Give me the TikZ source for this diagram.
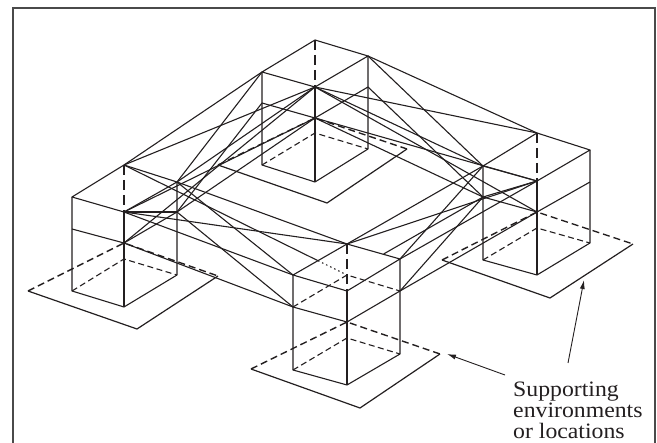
\documentclass[tikz,border=0pt]{standalone}
\usepackage{fontspec}
\setmainfont{Liberation Serif}[FakeStretch=1.08]
\usepackage{xcolor}
\usepackage{tikz}
\usetikzlibrary{arrows.meta, calc}

\definecolor{ink}{HTML}{231F20}
\definecolor{framegray}{HTML}{4A4A4A}
\newcommand{\captionsize}{\fontsize{22}{20.8}\selectfont}

\begin{document}
\begin{tikzpicture}[x=1pt, y=-1pt,
        wire/.style={draw=ink, line width=1.1pt, line join=round},
        hidden/.style={wire, dash pattern=on 6pt off 3.5pt},
        riser/.style={wire, line width=1.2pt, dash pattern=on 10pt off 5pt},
        ground/.style={wire, line width=1.2pt},
        groundhidden/.style={ground, line width=1.4pt, dash pattern=on 7pt off 4pt},
        pointer/.style={draw=ink, line width=0.9pt, -{Latex[length=9pt, width=5pt]}}]

            \useasboundingbox (0,0) rectangle (657,443);
            \clip (0,0) rectangle (657,443);
            \draw[framegray, line width=1.4pt] (13,460) -- (13,8) -- (655,8) -- (655,460);

            % left pillar
            \coordinate (L1) at (72,197);  \coordinate (L2) at (124,165);
            \coordinate (L3) at (177,182); \coordinate (L4) at (124,212);
            \coordinate (L5) at (72,229);  \coordinate (L6) at (124,243);
            \coordinate (L7) at (177,212);
            \coordinate (L8) at (72,291);  \coordinate (L9) at (124,307);
            \coordinate (L10) at (177,275); \coordinate (L11) at (124,259);
            % back pillar
            \coordinate (K1) at (262,72);  \coordinate (K2) at (315,40);
            \coordinate (K3) at (368,56);  \coordinate (K4) at (315,87);
            \coordinate (K5) at (262,103); \coordinate (K6) at (315,118);
            \coordinate (K7) at (368,87);
            \coordinate (K8) at (262,165); \coordinate (K9) at (315,182);
            \coordinate (K10) at (368,149); \coordinate (K11) at (315,133);
            % right pillar
            \coordinate (R1) at (483,166); \coordinate (R2) at (537,133);
            \coordinate (R3) at (590,150); \coordinate (R4) at (537,181);
            \coordinate (R5) at (483,197); \coordinate (R6) at (537,212);
            \coordinate (R7) at (590,182);
            \coordinate (R8) at (483,260); \coordinate (R9) at (537,275);
            \coordinate (R10) at (590,243); \coordinate (R11) at (537,228);
            % front pillar
            \coordinate (F1) at (293,275); \coordinate (F2) at (347,244);
            \coordinate (F3) at (400,259); \coordinate (F4) at (347,291);
            \coordinate (F5) at (293,307); \coordinate (F6) at (347,322);
            \coordinate (F7) at (400,291); \coordinate (F0) at (347,275);
            \coordinate (F8) at (293,370); \coordinate (F9) at (347,385);
            \coordinate (F10) at (400,354); \coordinate (F11) at (347,338);

            % ground plates
            \coordinate (PL1) at (28,291);  \coordinate (PL2) at (137,329);  \coordinate (PL3) at (218,276);
            \coordinate (PK1) at (218,165); \coordinate (PK2) at (327,203);  \coordinate (PK3) at (407,149);
            \coordinate (PR1) at (442,260); \coordinate (PR2) at (550,298);  \coordinate (PR3) at (633,244);
            \coordinate (PF1) at (251,369); \coordinate (PF2) at (360,408);  \coordinate (PF3) at (440,354);

            \draw[ground] (PL1) -- (PL2) -- (PL3);
            \draw[groundhidden] (PL1) -- (L6) -- (PL3);
            \draw[ground] (PK1) -- (PK2) -- (PK3);
            \draw[groundhidden] (PK1) -- (K6) -- (PK3);
            \draw[ground] (PR1) -- (PR2) -- (PR3);
            \draw[groundhidden] (PR1) -- (R6) -- (PR3);
            \draw[ground] (PF1) -- (PF2) -- (PF3);
            \draw[groundhidden] (PF1) -- (F6) -- (PF3);

            % pillar boxes
            \draw[wire] (L1) -- (L2) -- (L3) -- (L4) -- cycle;
            \draw[wire] (L1) -- (L8) -- (L9) -- (L10) -- (L3);
            \draw[wire] (L4) -- (L9);
            \draw[wire] (L5) -- (L6) -- (L7);
            \draw[riser] (L2) -- (L4);
            \draw[hidden] (L8) -- (L11) -- (L10);

            \draw[wire] (K1) -- (K2) -- (K3) -- (K4) -- cycle;
            \draw[wire] (K1) -- (K8) -- (K9) -- (K10) -- (K3);
            \draw[wire] (K4) -- (K9);
            \draw[wire] (K5) -- (K6) -- (K7);
            \draw[riser] (K2) -- (K4);
            \draw[hidden] (K8) -- (K11) -- (K10);

            \draw[wire] (R1) -- (R2) -- (R3) -- (R4) -- cycle;
            \draw[wire] (R1) -- (R8) -- (R9) -- (R10) -- (R3);
            \draw[wire] (R4) -- (R9);
            \draw[wire] (R5) -- (R6) -- (R7);
            \draw[riser] (R2) -- (R4);
            \draw[hidden] (R8) -- (R11) -- (R10);

            \draw[wire] (F1) -- (F2) -- (F3) -- (F4) -- cycle;
            \draw[wire] (F1) -- (F8) -- (F9) -- (F10) -- (F3);
            \draw[wire] (F4) -- (F9);
            \draw[wire] (F5) -- (F6) -- (F7);
            \draw[riser] (F2) -- (F4);
            \draw[hidden] (F5) -- (F0) -- (F7);
            \draw[hidden] (F8) -- (F11) -- (F10);

            % wires left to back
            \draw[wire] (L2) -- (K1);
            \draw[wire] (L2) -- (K4);
            \draw[wire] (L3) -- (K1);
            \draw[wire] (L3) -- (K4);
            \draw[wire] (L4) -- (K6);
            \draw[wire] (K4) -- (L6);
            \draw[wire] (L7) -- (K5);
            \draw[wire] (L7) -- (K6);
            \draw[wire] (L4) -- (L7);

            % wires back to right
            \draw[wire] (K3) -- (R2);
            \draw[wire] (K4) -- (R2);
            \draw[wire] (K3) -- (R1);
            \draw[wire] (K4) -- (R1);
            \draw[wire] (K6) -- (R4);
            \draw[wire] (K4) -- (R6);
            \draw[wire] (K7) -- (R5);
            \draw[wire] (K6) -- (R5);
            \draw[wire] (R4) -- (R5);

            % wires left to front
            \draw[wire] (L4) -- (F1);
            \draw[wire] (L4) -- (F2);
            \draw[wire] (L3) -- (F1);
            \draw[wire] (L3) -- (F2);
            \draw[wire] (L7) -- (F5);
            \draw[wire] (L6) -- (F5);
            \coordinate (Fin) at ($(L2)!0.87!(F0)$);
            \draw[wire] (L2) -- (Fin);
            \draw[wire, dash pattern=on 1.5pt off 3pt] (Fin) -- (F0);

            % wires front to right
            \draw[wire] (F3) -- (R4);
            \draw[wire] (F2) -- (R4);
            \draw[wire] (F3) -- (R1);
            \draw[wire] (F2) -- (R1);
            \draw[wire] (F7) -- (R5);
            \draw[wire] (F7) -- (R6);
            \draw[wire] ($(F0)!0.27!(R5)$) -- (R5);

            % label and pointers
            \node[anchor=north west, align=left, inner sep=0pt, text=ink,
                  font=\captionsize] (caption) at (513,382)
                  {Supporting\\environments\\or locations};
            \coordinate (tailA) at (505,375); \coordinate (tipA) at (447,354);
            \coordinate (tailB) at (568,363); \coordinate (tipB) at (584,280);
            \draw[pointer] (tailA) -- (tipA);
            \draw[pointer] (tailB) -- (tipB);

        \end{tikzpicture}
\end{document}
